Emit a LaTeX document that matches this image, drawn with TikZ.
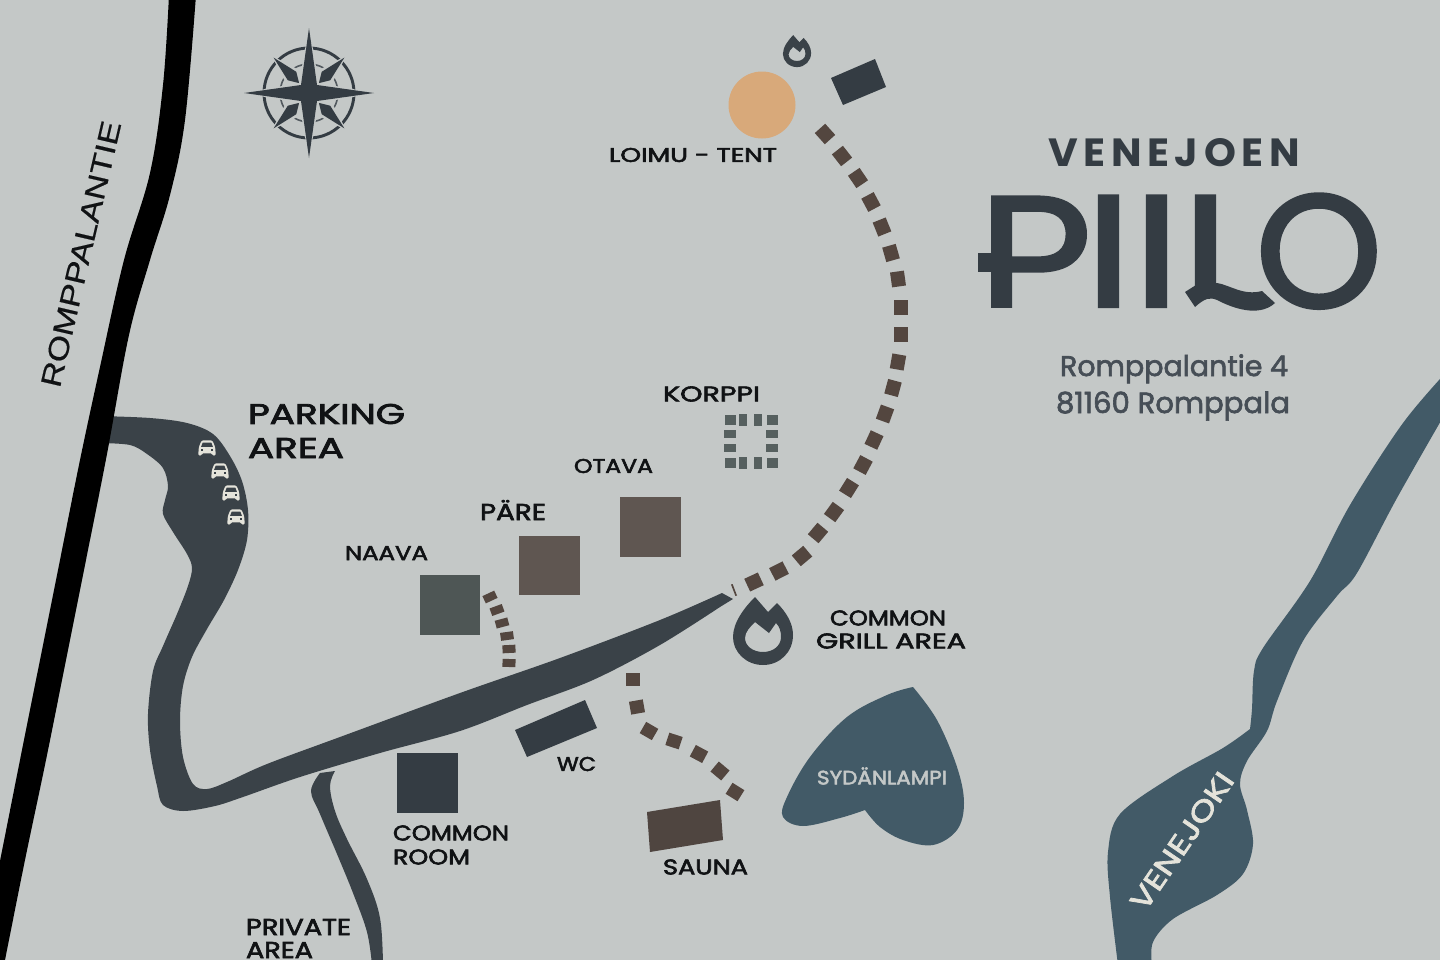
\documentclass[tikz,border=0pt]{standalone}
\usepackage{fontspec}
\usepackage{graphicx}
\setmainfont{Poppins}
\newfontfamily\logofont[FakeBold=1.4]{Poppins}
\newfontfamily\logoofont[FakeBold=2.4]{Poppins}
\newfontfamily\addrfont[FakeBold=2.2]{Poppins}
\newfontfamily\labfont[FakeBold=2.6]{Poppins}
\newfontfamily\arialfont[FakeBold=0.4]{Liberation Sans}
\newdimen\pxu \pxu=.75pt
\definecolor{bgc}{HTML}{C4C8C7}
\definecolor{roadc}{HTML}{3A4248}
\definecolor{waterc}{HTML}{425A67}
\definecolor{pathc}{HTML}{53463F}
\definecolor{cabinc}{HTML}{5F5651}
\definecolor{naavac}{HTML}{4E5655}
\definecolor{darkc}{HTML}{343C43}
\definecolor{addrc}{HTML}{464E56}
\definecolor{saunac}{HTML}{4F4540}
\definecolor{tentc}{HTML}{D8A97A}
\definecolor{carc}{HTML}{E4E3DA}
\definecolor{korpc}{HTML}{56605F}
\definecolor{labc}{HTML}{101214}
\tikzset{
  lbl/.style={anchor=west,inner sep=0pt,outer sep=0pt,text=labc},
  bit/.style={fill=pathc,inner sep=0pt,outer sep=0pt,rectangle},
  kbit/.style={fill=korpc,inner sep=0pt,outer sep=0pt,rectangle,minimum width=12\pxu,minimum height=7.5\pxu},
}
\newcommand\lab[6]{\node[lbl] (#1) at (#2,#3) {\resizebox{#4\pxu}{#5\pxu}{\labfont #6}};}
\newcommand\carico[2]{\begin{scope}[shift={(#1,#2)},scale=1.08]
  \fill[carc,rounded corners=1pt] (-5,-7) -- (5,-7) -- (7.5,-1) -- (8,5) -- (8,7) -- (5,7) -- (5,5) -- (-5,5) -- (-5,7) -- (-8,7) -- (-8,5) -- (-7.5,-1) -- cycle;
  \fill[roadc] (-4,-5) -- (4,-5) -- (5.5,-1) -- (-5.5,-1) -- cycle;
  \fill[roadc] (-6,1.2) rectangle (-3.5,2.6);
  \fill[roadc] (6,1.2) rectangle (3.5,2.6);
\end{scope}}
\newcommand\flameshape{%
  \fill[roadc,even odd rule] (755,597) -- (768,612) -- (777,603) .. controls (786,612) and (793,623) .. (793,635) .. controls (793,652) and (780,665) .. (763,665) .. controls (746,665) and (733,652) .. (733,637) .. controls (733,622) and (745,607) .. (755,597) -- cycle
  (755,622) -- (769,633) -- (776,623) .. controls (780,627) and (781,632) .. (781,637) .. controls (781,646) and (773,652) .. (763,652) .. controls (753,652) and (745,646) .. (745,638) .. controls (745,632) and (750,627) .. (755,622) -- cycle;}
\begin{document}
\begin{tikzpicture}[x=.75pt,y=-.75pt]
\useasboundingbox (0,0) rectangle (1440,960);
\clip (0,0) rectangle (1440,960);
\fill[bgc] (0,0) rectangle (1440,960);

% parking + main road
\fill[roadc] plot[smooth,tension=.55] coordinates {(100,416) (150,418) (187,423) (213,434) (230,456) (242,481) (248,510) (247,540) (238,570) (224,600) (207,629) (192,657) (183,686) (180,721) (183,757) (193,784) (207,789) (227,782) (267,764) (340,737) (460,693) (560,658) (660,620) (722,593)}
 -- (733,599) -- plot[smooth,tension=.55] coordinates {(720,607) (660,645) (593,680) (527,705) (460,731) (380,753) (300,777) (243,797) (215,806) (183,811) (163,805) (157,786) (150,750) (148,714) (153,671) (163,646) (177,614) (188,586) (192,568) (187,554) (173,532) (163,514) (165,500) (168,486) (163,468) (147,454) (130,445) (100,443)} -- cycle;

% private road
\fill[roadc] (335,771) -- plot[smooth,tension=.6] coordinates {(320,773) (311,791) (320,814) (337,854) (353,893) (367,932) (372,965)}
 -- (383,965) -- plot[smooth,tension=.6] coordinates {(383,965) (380,918) (367,879) (347,839) (335,811) (330,786) (335,771)} -- cycle;

% Romppalantie road
\fill[black] plot[smooth,tension=.6] coordinates {(169,-5) (163,85) (150,173) (124,260) (100,367) (80,460) (60,560) (40,660) (20,760) (0,861) (-20,961)}
 -- plot[smooth,tension=.6] coordinates {(-15,1060) (5,960) (25,860) (46,760) (66,660) (86,560) (107,454) (129,335) (150,260) (170,195) (185,120) (196,-5)} -- cycle;

% river
\fill[waterc] plot[smooth,tension=.55] coordinates {(1450,368) (1403,423) (1350,505) (1310,581) (1263,648) (1254,671) (1252,709) (1250,729)}
 -- plot[smooth,tension=.55] coordinates {(1250,729) (1223,748) (1173,776) (1120,814) (1108,852) (1110,897) (1118,965)}
 -- plot[smooth,tension=.55] coordinates {(1152,965) (1153,942) (1173,919) (1217,895) (1243,874) (1253,844) (1247,810) (1240,784) (1247,761) (1267,731) (1277,701) (1303,641) (1337,596) (1357,573) (1397,498) (1450,405)} -- cycle;

% lake
\fill[waterc] plot[smooth,tension=.6] coordinates {(913,687) (937,720) (957,767) (964,803) (957,830) (933,845) (903,840) (880,827) (865,810)}
 -- plot[smooth,tension=.6] coordinates {(865,810) (840,818) (803,826) (783,817) (787,797) (810,757) (847,717) (887,695) (913,687)} -- cycle;

% buildings
\fill[naavac] (420,575) rectangle (480,635);
\fill[cabinc] (519,536) rectangle (580,595);
\fill[cabinc] (620,497) rectangle (681,557);
\fill[darkc] (397,753) rectangle (458,813);
\fill[darkc] (515,730) -- (585,700) -- (597,728) -- (527,757) -- cycle;
\fill[saunac] (647,812) -- (720,800) -- (723,840) -- (650,852) -- cycle;
\fill[darkc] (831,78) -- (875,59) -- (886,87) -- (843,105) -- cycle;
\fill[tentc] (762,105) circle (33.5);

% flames
\flameshape
\begin{scope}[shift={(797,53)},scale=.47,shift={(-763,-635)}]\flameshape\end{scope}

% main path
\foreach \x/\y/\a in {825/134/-48,842/156/-52,858/178/-56,871/202/-62,882/227/-68,891/253/-74,898/279/-82,901/307/-90,901/334/-90,898/362/-100,893/388/-105,885/414/-110,874/440/-115,863/465/-118,849/488/-122,834/512/-126,818/533/-130,802/556/-140,779/571/-153,754/582/-155}
  {\node[bit,minimum width=15\pxu,minimum height=14\pxu,rotate=\a] at (\x,\y) {};}
\fill[pathc] (731,584.5) -- (732.6,584) -- (737,595.5) -- (735.4,596) -- cycle;

% naava path
\foreach \x/\y/\a in {490/597/25,497/610/20,502/623/15,507/636/8,509/649/3,509/663/-2}
  {\node[bit,minimum width=13\pxu,minimum height=8\pxu,rotate=\a] at (\x,\y) {};}

% sauna path
\foreach \x/\y/\a in {633/679/0,637/707/10,649/731/-30,674/741/-18,699/754/-28,720/771/-40,735/792/-32}
  {\node[bit,minimum width=14\pxu,minimum height=13\pxu,rotate=\a] at (\x,\y) {};}

% korppi outline
\foreach \x/\y in {730/434,772/434,730/448,772/448}
  {\node[kbit] at (\x,\y) {};}
\foreach \x in {743,758} {\foreach \y in {420,463} {\node[kbit,minimum width=8\pxu,minimum height=12\pxu] at (\x,\y) {};}}
\foreach \x in {730,772} {\foreach \y in {420,463} {\node[kbit,minimum width=11\pxu,minimum height=10\pxu] at (\x,\y) {};}}

% compass
\begin{scope}[shift={(309,93)}]
  \draw[darkc,line width=2.2pt] (0,0) circle (45);
  \draw[darkc!85!white,line width=1.2pt] (0,0) circle (29);
  \foreach \a in {45,135,225,315}
    {\begin{scope}[rotate=\a]
      \fill[bgc] (53,0) -- (24,9) -- (12,0) -- (24,-9) -- cycle;
      \fill[darkc] (50,0) -- (24,6) -- (14,0) -- (24,-6) -- cycle;
    \end{scope}}
  \fill[bgc] (0,-66) -- (10,-10) -- (66,0) -- (10,10) -- (0,66) -- (-10,10) -- (-66,0) -- (-10,-10) -- cycle;
  \fill[darkc] (0,-65) -- (8,-8) -- (65,0) -- (8,8) -- (0,65) -- (-8,8) -- (-65,0) -- (-8,-8) -- cycle;
\end{scope}

% cars
\carico{207}{448}\carico{220}{471}\carico{231}{493}\carico{236}{517}

% labels
\lab{lLoimu}{609}{155}{168}{14}{LOIMU - TENT}
\lab{lPark}{248}{414}{157}{20}{PARKING}
\lab{lPArea}{248}{448}{96}{20}{AREA}
\lab{lKorp}{663}{394}{97}{15}{KORPPI}
\lab{lOtava}{574}{466}{79}{14}{OTAVA}
\lab{lPare}{480}{510}{66}{20}{PÄRE}
\lab{lNaava}{345}{553}{83}{14}{NAAVA}
\lab{lCom}{830}{618}{116}{15}{COMMON}
\lab{lGrill}{816}{641}{150}{15}{GRILL AREA}
\lab{lWc}{557}{764}{39}{14}{WC}
\lab{lCom2}{393}{833}{116}{15}{COMMON}
\lab{lRoom}{393}{857}{77}{15}{ROOM}
\lab{lSauna}{663}{867}{85}{15}{SAUNA}
\lab{lPriv}{246}{927}{105}{16}{PRIVATE}
\lab{lPArea2}{246}{950}{67}{16}{AREA}
\node[lbl,text=bgc] (lSyd) at (817,776) {\resizebox{130\pxu}{17\pxu}{\labfont SYDÄNLAMPI}};
\node[inner sep=0pt,text=carc,rotate=55.6] (lVen) at (1182,841) {\resizebox{160\pxu}{20\pxu}{\addrfont VENEJOKI}};
\node[inner sep=0pt,text=labc,rotate=76.9] (lRomp) at (81,254) {\resizebox{272\pxu}{20\pxu}{\arialfont ROMPPALANTIE}};

% address
\node[lbl,text=addrc,anchor=base west] (lAddr1) at (1060,376) {\resizebox{228\pxu}{!}{\addrfont Romppalantie 4}};
\node[lbl,text=addrc,anchor=base west] (lAddr2) at (1056,413) {\resizebox{234\pxu}{!}{\addrfont 81160 Romppala}};

% logo
\node[lbl,text=darkc] (lVenejoen) at (1048,153) {\resizebox{252\pxu}{28\pxu}{\bfseries\addfontfeature{LetterSpace=14}VENEJOEN}};
\begin{scope}
  \clip (975,190) rectangle (1100,307);
  \node[lbl,text=darkc,anchor=base west] (lP) at (977,325) {\scalebox{1.25}[1.15]{\logofont\fontsize{120}{120}\selectfont P}};
\end{scope}
\fill[darkc] (978,253) rectangle (1000,272);
\node[lbl,text=darkc,anchor=base west] (lI1) at (1084,307) {\scalebox{1.25}[1]{\logofont\fontsize{120}{120}\selectfont I}};
\node[lbl,text=darkc,anchor=base west] (lI2) at (1132,307) {\scalebox{1.25}[1]{\logofont\fontsize{120}{120}\selectfont I}};
\begin{scope}
  \clip (1190,190) rectangle (1225,292);
  \node[lbl,text=darkc,anchor=base west] (lL) at (1181,307) {\scalebox{1.25}[1]{\logofont\fontsize{120}{120}\selectfont L}};
\end{scope}
\fill[darkc] (1185,292) -- (1196,285) -- (1217,283) .. controls (1230,285) and (1243,296) .. (1262,291) -- (1275,303) .. controls (1262,315) and (1240,312) .. (1217,300) .. controls (1210,297) and (1205,298) .. (1195,307) -- cycle;
\node[lbl,text=darkc,anchor=base west] (lO) at (1256,307) {\logoofont\fontsize{120}{120}\selectfont O};
\end{tikzpicture}
\end{document}
